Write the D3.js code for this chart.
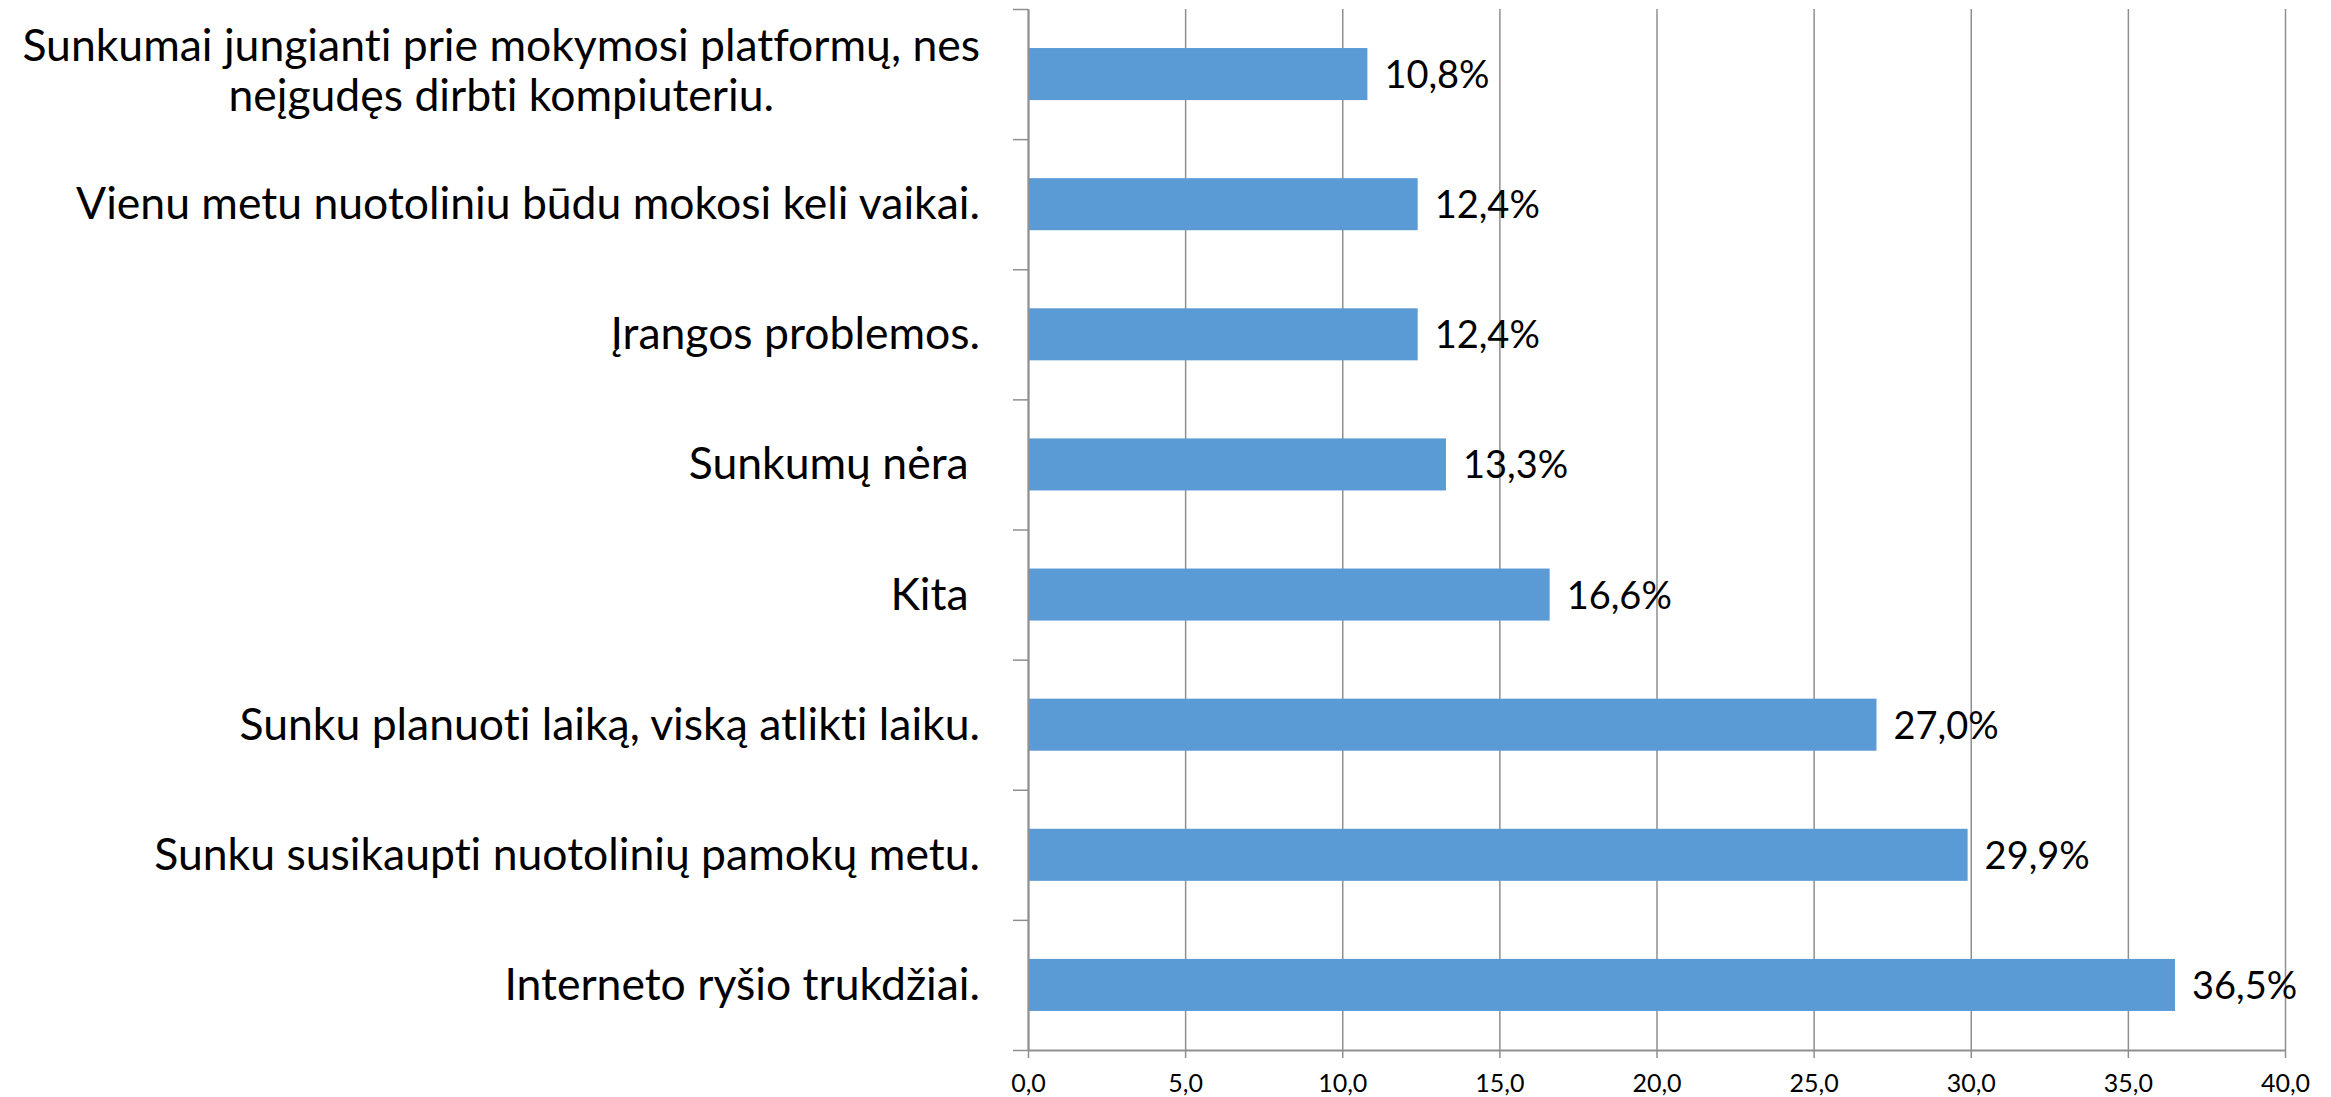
<!DOCTYPE html>
<html><head><meta charset="utf-8">
<script src="https://cdn.jsdelivr.net/npm/d3@7"></script>
<style>html,body{margin:0;padding:0;background:#fff;} svg{display:block;} text{font-variant-ligatures:none;font-feature-settings:"liga" 0;}</style>
</head><body>
<svg id="chart" width="2331" height="1097"></svg>
<script>
// ---- data (top to bottom) ----
const categories = [
  "Sunkumai jungianti prie mokymosi platformų, nes\nneįgudęs dirbti kompiuteriu.",
  "Vienu metu nuotoliniu būdu mokosi keli vaikai.",
  "Įrangos problemos.",
  "Sunkumų nėra ",
  "Kita ",
  "Sunku planuoti laiką, viską atlikti laiku.",
  "Sunku susikaupti nuotolinių pamokų metu.",
  "Interneto ryšio trukdžiai."
];
const values = [10.8, 12.4, 12.4, 13.3, 16.6, 27.0, 29.9, 36.5];
const xTicks = [0, 5, 10, 15, 20, 25, 30, 35, 40];

const fmt = d => d.toFixed(1).replace('.', ',');
const FONT = "Lato, 'Open Sans', sans-serif";
const gridColor = "#8f8f8f";

const svg = d3.select("#chart");
const pLeft = 1028, pRight = 2285, pTop = 9, pBottom = 1050;

const x = d3.scaleLinear().domain([0, 40]).range([pLeft, pRight]);
const y = d3.scaleBand().domain(categories).range([pTop, pBottom]).paddingInner(0.6).paddingOuter(0.3);
const yEdge = d3.scaleLinear().domain([0, categories.length]).range([pTop, pBottom]);

// vertical gridlines
const grid = svg.append("g").attr("transform", `translate(0,${pBottom})`)
  .call(d3.axisBottom(x).tickValues(xTicks).tickSize(-(pBottom - pTop)).tickFormat(""));
grid.select(".domain").remove();
grid.selectAll(".tick line").attr("stroke", gridColor).attr("stroke-width", 1.5);

// bars
svg.append("g").selectAll("rect").data(values).join("rect")
  .attr("x", x(0))
  .attr("y", (d, i) => y(categories[i]))
  .attr("width", d => x(d) - x(0))
  .attr("height", y.bandwidth())
  .attr("fill", "#5B9BD5");

// value labels
svg.append("g").selectAll("text").data(values).join("text")
  .attr("x", d => x(d) + 17)
  .attr("y", (d, i) => y(categories[i]) + y.bandwidth() / 2 + 14)
  .attr("font-family", FONT).attr("font-size", 38).attr("fill", "#000")
  .text(d => fmt(d) + "%");

// bottom axis
const xAxis = svg.append("g").attr("transform", `translate(0,${pBottom})`)
  .call(d3.axisBottom(x).tickValues(xTicks).tickSize(8).tickSizeOuter(0).tickFormat(fmt));
xAxis.select(".domain").attr("stroke", gridColor).attr("stroke-width", 2);
xAxis.selectAll(".tick line").attr("stroke", gridColor).attr("stroke-width", 1.5);
xAxis.selectAll(".tick text").attr("font-family", FONT).attr("font-size", 25)
  .attr("fill", "#000").attr("dy", null).attr("y", 42);

// left axis (ticks at category boundaries)
const yAxis = svg.append("g").attr("transform", `translate(${pLeft},0)`)
  .call(d3.axisLeft(yEdge).ticks(categories.length).tickSize(15).tickSizeOuter(0).tickFormat(""));
yAxis.select(".domain").attr("stroke", gridColor).attr("stroke-width", 2);
yAxis.selectAll(".tick line").attr("stroke", gridColor).attr("stroke-width", 1.5);

// category labels
const labelRight = 980, catSize = 44.5, lineH = 50;
const lab = svg.append("g").attr("font-family", FONT).attr("font-size", catSize).attr("fill", "#000");
categories.forEach((c, i) => {
  const lines = c.split("\n");
  const cy = y(c) + y.bandwidth() / 2;
  const t = lab.append("text").attr("xml:space", "preserve").style("white-space", "pre");
  if (lines.length === 1) {
    t.attr("x", labelRight).attr("y", cy + 15).attr("text-anchor", "end").text(lines[0]);
  } else {
    const spans = lines.map((l, k) => t.append("tspan").attr("y", cy - 13 + k * lineH - (lines.length - 2) * lineH / 2).text(l));
    const maxW = d3.max(spans, s => s.node().getComputedTextLength());
    spans.forEach(s => s.attr("x", labelRight - maxW / 2).attr("text-anchor", "middle"));
  }
});
</script>
</body></html>
